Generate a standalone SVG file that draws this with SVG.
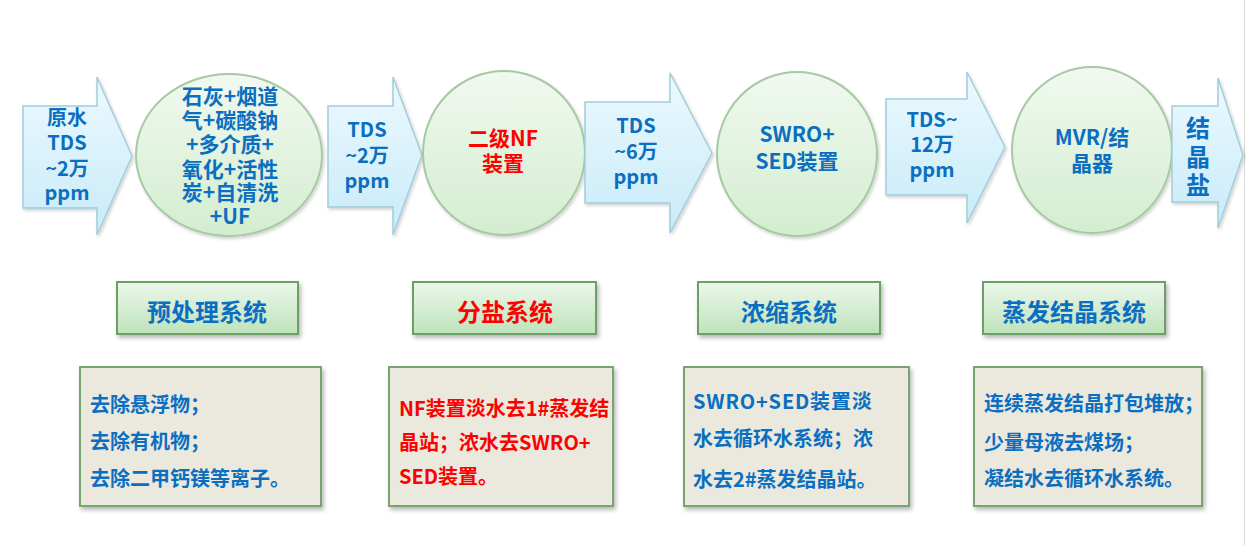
<svg xmlns="http://www.w3.org/2000/svg" width="1246" height="545" viewBox="0 0 1246 545">
<defs>
<linearGradient id="gArrow" x1="0" y1="0" x2="0" y2="1">
<stop offset="0" stop-color="#ecf9fe"/>
<stop offset="1" stop-color="#c8ebf9"/>
</linearGradient>
<linearGradient id="gCircle" x1="0" y1="0" x2="0" y2="1">
<stop offset="0" stop-color="#f1f9f0"/>
<stop offset="1" stop-color="#d3edcf"/>
</linearGradient>
<linearGradient id="gTitle" x1="0" y1="0" x2="0" y2="1">
<stop offset="0" stop-color="#ecf7eb"/>
<stop offset="1" stop-color="#bee3ba"/>
</linearGradient>
<filter id="shadow" x="-10%" y="-10%" width="125%" height="130%">
<feDropShadow dx="2" dy="3" stdDeviation="2" flood-color="#000" flood-opacity="0.28"/>
</filter>
<filter id="softshadow" x="-10%" y="-10%" width="125%" height="130%">
<feDropShadow dx="1.5" dy="2" stdDeviation="1.5" flood-color="#000" flood-opacity="0.18"/>
</filter>
</defs>
<style>
text { font-family: "Noto Sans CJK SC", "Microsoft YaHei", "Noto Sans", sans-serif; font-weight: bold; }
.arrow { fill: url(#gArrow); stroke: #a2cdd9; stroke-width: 1.5; filter: url(#softshadow); }
.circle { fill: url(#gCircle); stroke: #a7c9a3; stroke-width: 2; filter: url(#softshadow); }
.title { fill: url(#gTitle); stroke: #6e9f68; stroke-width: 2; filter: url(#shadow); }
.desc { fill: #ebe9de; stroke: #76a56f; stroke-width: 2; filter: url(#shadow); }
.t { font-size: 20px; fill: #0b6fc1; text-anchor: middle; }
.tc { font-size: 21px; fill: #0b6fc1; text-anchor: middle; }
.tr { font-size: 21px; fill: #ff0000; text-anchor: middle; }
.tb { font-size: 21px; fill: #0b6fc1; text-anchor: middle; }
.big { font-size: 24px; fill: #0b6fc1; text-anchor: middle; }
.head { font-size: 24px; fill: #0b6fc1; text-anchor: middle; }
.headr { font-size: 24px; fill: #ff0000; text-anchor: middle; }
.d { font-size: 20px; fill: #0b6fc1; }
.dr { font-size: 20px; fill: #ff0000; }
</style>
<rect x="0" y="0" width="1246" height="545" fill="#ffffff"/>
<line x1="1244.5" y1="0" x2="1244.5" y2="545" stroke="#d9d9d9" stroke-width="1"/>

<g id="connectors"></g>

<g id="arrow-raw">
<path class="arrow" d="M23,106 H97 V77 L132,156 L97,235 V208 H23 Z"/>
<text class="t"><tspan x="67" y="125">原水</tspan><tspan x="67" y="150">TDS</tspan><tspan x="67" y="176">~2万</tspan><tspan x="67" y="200">ppm</tspan></text>
</g>

<g id="node-pretreat">
<ellipse class="circle" cx="229" cy="155" rx="93" ry="81"/>
<text class="tc"><tspan x="230" y="104">石灰+烟道</tspan><tspan x="230" y="128">气+碳酸钠</tspan><tspan x="230" y="152">+多介质+</tspan><tspan x="230" y="177">氧化+活性</tspan><tspan x="230" y="200">炭+自清洗</tspan><tspan x="230" y="224">+UF</tspan></text>
</g>

<g id="arrow-tds2">
<path class="arrow" d="M328,106 H393 V77 L422,155 L393,235 V207 H328 Z"/>
<text class="t"><tspan x="367" y="137">TDS</tspan><tspan x="367" y="163">~2万</tspan><tspan x="367" y="188">ppm</tspan></text>
</g>

<g id="node-nf">
<ellipse class="circle" cx="504" cy="153" rx="81" ry="82"/>
<text class="tr"><tspan x="503" y="146">二级NF</tspan><tspan x="503" y="171">装置</tspan></text>
</g>

<g id="arrow-tds6">
<path class="arrow" d="M585,102 H670 V73 L712,153 L670,233 V203 H585 Z"/>
<text class="t"><tspan x="636" y="133">TDS</tspan><tspan x="636" y="159">~6万</tspan><tspan x="636" y="184">ppm</tspan></text>
</g>

<g id="node-swro">
<ellipse class="circle" cx="797" cy="154" rx="80" ry="82"/>
<text class="tb"><tspan x="797" y="142">SWRO+</tspan><tspan x="797" y="169">SED装置</tspan></text>
</g>

<g id="arrow-tds12">
<path class="arrow" d="M886,99 H967 V72 L1005,147 L967,223 V195 H886 Z"/>
<text class="t"><tspan x="932" y="127">TDS~</tspan><tspan x="932" y="152">12万</tspan><tspan x="932" y="177">ppm</tspan></text>
</g>

<g id="node-mvr">
<ellipse class="circle" cx="1092" cy="150" rx="80" ry="83"/>
<text class="tb"><tspan x="1092" y="145">MVR/结</tspan><tspan x="1092" y="171">晶器</tspan></text>
</g>

<g id="arrow-salt">
<path class="arrow" d="M1172,106 H1218 V78 L1243,155 L1218,228 V202 H1172 Z"/>
<text class="big"><tspan x="1198" y="137">结</tspan><tspan x="1198" y="166">晶</tspan><tspan x="1198" y="194">盐</tspan></text>
</g>

<g id="title-pretreat">
<rect class="title" x="117" y="282" width="181" height="52"/>
<text class="head" x="207" y="321">预处理系统</text>
</g>
<g id="title-salt">
<rect class="title" x="413" y="282" width="183" height="52"/>
<text class="headr" x="505" y="321">分盐系统</text>
</g>
<g id="title-conc">
<rect class="title" x="698" y="282" width="182" height="52"/>
<text class="head" x="789" y="321">浓缩系统</text>
</g>
<g id="title-evap">
<rect class="title" x="983" y="282" width="182" height="52"/>
<text class="head" x="1074" y="321">蒸发结晶系统</text>
</g>

<g id="desc-pretreat">
<rect class="desc" x="80" y="367" width="241" height="139"/>
<text class="d"><tspan x="90" y="412">去除悬浮物；</tspan><tspan x="90" y="449">去除有机物；</tspan><tspan x="90" y="486">去除二甲钙镁等离子。</tspan></text>
</g>
<g id="desc-salt">
<rect class="desc" x="389" y="367" width="224" height="139"/>
<text class="dr"><tspan x="399" y="416">NF装置淡水去1#蒸发结</tspan><tspan x="399" y="450">晶站；浓水去SWRO+</tspan><tspan x="399" y="484">SED装置。</tspan></text>
</g>
<g id="desc-conc">
<rect class="desc" x="684" y="367" width="225" height="139"/>
<text class="d"><tspan x="693" y="409" letter-spacing="0.8">SWRO+SED装置淡</tspan><tspan x="693" y="446">水去循环水系统；浓</tspan><tspan x="693" y="487">水去2#蒸发结晶站。</tspan></text>
</g>
<g id="desc-evap">
<rect class="desc" x="974" y="367" width="228" height="139"/>
<text class="d"><tspan x="984" y="411">连续蒸发结晶打包堆放；</tspan><tspan x="984" y="450">少量母液去煤场；</tspan><tspan x="984" y="486">凝结水去循环水系统。</tspan></text>
</g>
</svg>
